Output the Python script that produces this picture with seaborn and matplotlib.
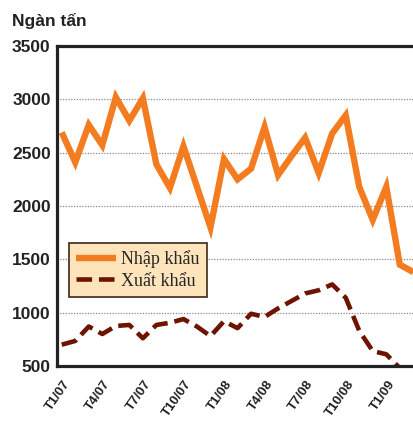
import matplotlib
matplotlib.use("Agg")
import matplotlib.pyplot as plt
from matplotlib.transforms import ScaledTranslation
import seaborn as sns
import pandas as pd

# -------------------------------
# Data
# -------------------------------
thang = ["T1/07", "T2/07", "T3/07", "T4/07", "T5/07", "T6/07", "T7/07", "T8/07", "T9/07",
         "T10/07", "T11/07", "T12/07", "T1/08", "T2/08", "T3/08", "T4/08", "T5/08", "T6/08",
         "T7/08", "T8/08", "T9/08", "T10/08", "T11/08", "T12/08", "T1/09", "T2/09", "T3/09"]

nhap_khau = [2690, 2410, 2760, 2570, 3020, 2800, 3010, 2390, 2170, 2560, 2180, 1800, 2440, 2250,
             2350, 2740, 2290, 2470, 2640, 2310, 2680, 2850, 2180, 1870, 2180, 1450, 1380]

xuat_khau = [700, 735, 870, 800, 875, 885, 760, 885, 905, 940, 870, 780, 920, 855,
             990, 960, 1040, 1110, 1180, 1210, 1265, 1140, 830, 640, 610, 480, 440]

tick_labels = ["T1/07", "T4/07", "T7/07", "T10/07", "T1/08", "T4/08", "T7/08", "T10/08", "T1/09"]
y_ticks = [500, 1000, 1500, 2000, 2500, 3000, 3500]

df = pd.DataFrame({"thang": range(len(thang)), "nhap": nhap_khau, "xuat": xuat_khau})

# -------------------------------
# Style
# -------------------------------
sns.set_style("white")
plt.rcParams["font.family"] = ["Liberation Sans", "DejaVu Sans"]

orange = "#F47C20"
dark_red = "#6E1300"
ink = "#222222"

fig = plt.figure(figsize=(4.14, 4.21), dpi=100)
ax = fig.add_axes([57 / 414, 1 - 366 / 421, 1 - 57 / 414, 320 / 421])

sns.lineplot(data=df, x="thang", y="nhap", color=orange, lw=4.6, ax=ax,
             label="Nhập khẩu", solid_joinstyle="miter", solid_capstyle="butt")
sns.lineplot(data=df, x="thang", y="xuat", color=dark_red, lw=3.3, ax=ax,
             label="Xuất khẩu", linestyle=(0, (3.4, 1.5)), dash_capstyle="butt")

ax.set_xlim(-0.35, 26.05)
ax.set_ylim(500, 3500)
ax.set_yticks(y_ticks)
ax.set_yticklabels([str(v) for v in y_ticks], fontsize=12.5, fontweight="bold", color=ink)

tick_pos = [thang.index(t) for t in tick_labels]
ax.set_xticks(tick_pos)
ax.set_xticklabels(tick_labels, rotation=55, ha="right", va="center", rotation_mode="anchor",
                   fontsize=9.5, fontweight="bold", color=ink)
ax.tick_params(axis="y", length=0, pad=4.5)
ax.tick_params(axis="x", length=0, pad=11)

# labels sit a little right of their tick in the original
shift = ScaledTranslation(6 / 100, 0, fig.dpi_scale_trans)
for lbl in ax.get_xticklabels():
    lbl.set_transform(lbl.get_transform() + shift)

# dotted grid lines
for y in [1000, 1500, 2000, 2500, 3000]:
    ax.axhline(y, color="#888888", lw=0.9, ls=(0, (1, 1.2)), zorder=0)

for side in ["left", "bottom", "top"]:
    ax.spines[side].set_color(ink)
    ax.spines[side].set_linewidth(2.3)
ax.spines["right"].set_visible(False)

ax.set_xlabel("")
ax.set_ylabel("")

leg = ax.legend(loc="upper left", bbox_to_anchor=(0.034, 0.384), borderaxespad=0,
                frameon=True, fancybox=False, handlelength=2.2, handletextpad=0.3,
                borderpad=0.4, labelspacing=0.25,
                prop={"family": "Liberation Serif", "size": 13})
leg.get_frame().set_facecolor("#FDE4BA")
leg.get_frame().set_edgecolor("#3A2A1A")
leg.get_frame().set_linewidth(1.2)
leg.get_frame().set_alpha(1)

fig.text(12 / 414, 1 - 21 / 421, "Ngàn tấn", fontsize=12.5, fontweight="bold",
         color=ink, ha="left", va="center")

fig.savefig("out.png", dpi=100)
